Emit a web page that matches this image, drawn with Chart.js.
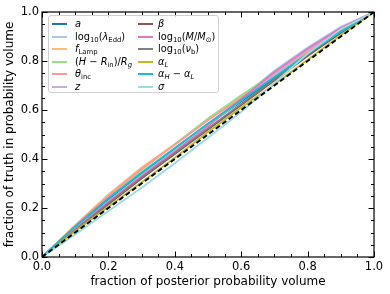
<!DOCTYPE html>
<html>
<head>
<meta charset="utf-8">
<script src="https://cdn.jsdelivr.net/npm/chart.js@4.4.1/dist/chart.umd.min.js"></script>
<style>
  html, body { margin: 0; padding: 0; background: #fff; }
  #wrap { position: relative; width: 390px; height: 294px; }
  #legend {
    position: absolute; left: 48px; top: 15px; width: 171px; height: 78px;
    box-sizing: border-box; border: 1px solid #d0d0d0; border-radius: 3px;
    background: rgba(255,255,255,0.85);
    font-family: "DejaVu Sans", sans-serif; font-size: 9.8px; color: #000;
  }
  .item { position: absolute; height: 12px; white-space: nowrap; }
  .swatch { position: absolute; top: 5px; width: 15px; height: 2px; }
  .lab { position: absolute; top: 0; line-height: 12px; }
  .lab sub { font-size: 70%; vertical-align: -2px; line-height: 0; }
  .lab i { font-family: "DejaVu Sans", sans-serif; font-style: oblique; }
</style>
</head>
<body>
<div id="wrap">
  <canvas id="c" width="390" height="294"></canvas>
  <div id="legend"></div>
</div>
<script>
// ---- data ----
const xs = [0, 0.1, 0.2, 0.3, 0.4, 0.5, 0.6, 0.7, 0.8, 0.9, 1.0];
const seriesNames = ['a', 'lambdaEdd', 'fLamp', 'HRin', 'thetaInc', 'z', 'beta', 'logM', 'logNu', 'alphaL', 'alphaHL', 'sigma'];
const legendLabels = [
  '<i>a</i>',
  'log<sub>10</sub>(<i>λ</i><sub>Edd</sub>)',
  '<i>f</i><sub>Lamp</sub>',
  '(<i>H</i> − <i>R</i><sub>in</sub>)/<i>R</i><sub><i>g</i></sub>',
  '<i>θ</i><sub>inc</sub>',
  '<i>z</i>',
  '<i>β</i>',
  'log<sub>10</sub>(<i>M</i>/<i>M</i><sub>⊙</sub>)',
  'log<sub>10</sub>(<i>ν</i><sub>b</sub>)',
  '<i>α</i><sub><i>L</i></sub>',
  '<i>α</i><sub><i>H</i></sub> − <i>α</i><sub><i>L</i></sub>',
  '<i>σ</i>'
];
const seriesColors = ['#1f77b4', '#aec7e8', '#ffbb78', '#98df8a', '#ff9896', '#c5b0d5',
                      '#8c564b', '#e377c2', '#7f7f7f', '#bcbd22', '#17becf', '#9edae5'];

const yA        = [0, 0.120, 0.235, 0.340, 0.440, 0.540, 0.635, 0.730, 0.825, 0.915, 1];
const yLambda   = [0, 0.115, 0.225, 0.330, 0.435, 0.540, 0.650, 0.760, 0.855, 0.940, 1];
const yFLamp    = [0, 0.130, 0.255, 0.365, 0.460, 0.560, 0.655, 0.745, 0.835, 0.920, 1];
const yHRin     = [0, 0.125, 0.245, 0.355, 0.460, 0.565, 0.660, 0.750, 0.840, 0.925, 1];
const yTheta    = [0, 0.128, 0.250, 0.360, 0.458, 0.558, 0.650, 0.745, 0.840, 0.925, 1];
const yZ        = [0, 0.115, 0.228, 0.335, 0.435, 0.535, 0.640, 0.745, 0.845, 0.930, 1];
const yBeta     = [0, 0.110, 0.215, 0.320, 0.420, 0.520, 0.620, 0.720, 0.820, 0.915, 1];
const yLogM     = [0, 0.115, 0.225, 0.330, 0.430, 0.535, 0.645, 0.755, 0.850, 0.935, 1];
const yLogNu    = [0, 0.110, 0.220, 0.325, 0.425, 0.525, 0.625, 0.725, 0.825, 0.920, 1];
const yAlphaL   = [0, 0.105, 0.205, 0.305, 0.405, 0.510, 0.610, 0.705, 0.805, 0.905, 1];
const yAlphaHL  = [0, 0.125, 0.240, 0.345, 0.445, 0.545, 0.640, 0.735, 0.830, 0.920, 1];
const ySigma    = [0, 0.092, 0.188, 0.283, 0.383, 0.487, 0.592, 0.710, 0.830, 0.930, 1];
const seriesValues = [yA, yLambda, yFLamp, yHRin, yTheta, yZ, yBeta, yLogM, yLogNu, yAlphaL, yAlphaHL, ySigma];

const diagX = [0, 1];
const diagY = [0, 1];

const xTickLabels = ['0.0', '0.2', '0.4', '0.6', '0.8', '1.0'];
const yTickLabels = ['0.0', '0.2', '0.4', '0.6', '0.8', '1.0'];
const majorTicks = [0, 0.2, 0.4, 0.6, 0.8, 1.0];
const minorTicks = [0.05, 0.1, 0.15, 0.25, 0.3, 0.35, 0.45, 0.5, 0.55, 0.65, 0.7, 0.75, 0.85, 0.9, 0.95];

// ---- build datasets ----
const datasets = seriesValues.map((ys, i) => ({
  label: seriesNames[i],
  data: xs.map((x, j) => ({ x: x, y: ys[j] })),
  borderColor: seriesColors[i],
  backgroundColor: seriesColors[i],
  borderWidth: 1.8,
  pointRadius: 0,
  fill: false,
  tension: 0,
  order: seriesValues.length - i
}));
datasets.push({
  label: 'diag',
  data: diagX.map((x, j) => ({ x: x, y: diagY[j] })),
  borderColor: '#000',
  borderWidth: 2,
  borderDash: [5, 3],
  pointRadius: 0,
  fill: false,
  order: -1
});

const frameTicks = {
  id: 'frameTicks',
  afterDatasetsDraw(chart) {
    const { ctx, chartArea: a, scales } = chart;
    const xs_ = scales.x, ys_ = scales.y;
    ctx.save();
    ctx.strokeStyle = '#000';
    ctx.lineWidth = 1;
    const drawSet = (vals, len) => {
      vals.forEach(v => {
        const px = Math.round(xs_.getPixelForValue(v)) + 0.5;
        const py = Math.round(ys_.getPixelForValue(v)) + 0.5;
        ctx.beginPath();
        ctx.moveTo(px, a.bottom); ctx.lineTo(px, a.bottom - len);
        ctx.moveTo(px, a.top); ctx.lineTo(px, a.top + len);
        ctx.moveTo(a.left, py); ctx.lineTo(a.left + len, py);
        ctx.moveTo(a.right, py); ctx.lineTo(a.right - len, py);
        ctx.stroke();
      });
    };
    drawSet(majorTicks, 5.5);
    drawSet(minorTicks, 3);
    ctx.lineWidth = 1.2;
    ctx.strokeRect(a.left, a.top, a.right - a.left, a.bottom - a.top);
    ctx.restore();
  },
  afterRender(chart) {
    const a = chart.chartArea;
    const lg = document.getElementById('legend');
    lg.style.left = (a.left + 6) + 'px';
    lg.style.top = (a.top + 3) + 'px';
  }
};

// legend (HTML, real text)
const lg = document.getElementById('legend');
legendLabels.forEach((html, i) => {
  const col = i < 6 ? 0 : 1;
  const row = i % 6;
  const it = document.createElement('div');
  it.className = 'item';
  it.style.left = (col === 0 ? 3 : 89) + 'px';
  it.style.top = (2 + row * 12.6) + 'px';
  const sw = document.createElement('span');
  sw.className = 'swatch';
  sw.style.left = '0px';
  sw.style.background = seriesColors[i];
  const lb = document.createElement('span');
  lb.className = 'lab';
  lb.style.left = (col === 0 ? 23 : 20) + 'px';
  lb.innerHTML = html;
  it.appendChild(sw); it.appendChild(lb);
  lg.appendChild(it);
});

new Chart(document.getElementById('c'), {
  type: 'line',
  data: { datasets },
  options: {
    responsive: false,
    animation: false,
    events: [],
    layout: { padding: { top: 12, right: 16, left: 0, bottom: 0 } },
    plugins: { legend: { display: false }, tooltip: { enabled: false } },
    scales: {
      x: {
        type: 'linear', min: 0, max: 1,
        grid: { display: false, drawTicks: false },
        border: { display: false },
        ticks: {
          stepSize: 0.2, padding: 3, color: '#000', maxRotation: 0,
          font: { family: 'DejaVu Sans', size: 11.5 },
          callback: (v, i) => xTickLabels[i]
        },
        title: {
          display: true, text: 'fraction of posterior probability volume',
          color: '#000', font: { family: 'DejaVu Sans', size: 12 },
          padding: { top: 0, bottom: 5 }
        },
        afterFit: s => { s.height = 37; }
      },
      y: {
        type: 'linear', min: 0, max: 1,
        grid: { display: false, drawTicks: false },
        border: { display: false },
        ticks: {
          stepSize: 0.2, padding: 3, color: '#000',
          font: { family: 'DejaVu Sans', size: 11.5 },
          callback: (v, i) => yTickLabels[i]
        },
        title: {
          display: true, text: 'fraction of truth in probability volume',
          color: '#000', font: { family: 'DejaVu Sans', size: 12 },
          padding: { top: 3, bottom: 0 }
        },
        afterFit: s => { s.width = 42; }
      }
    }
  },
  plugins: [frameTicks]
});
</script>
</body>
</html>
